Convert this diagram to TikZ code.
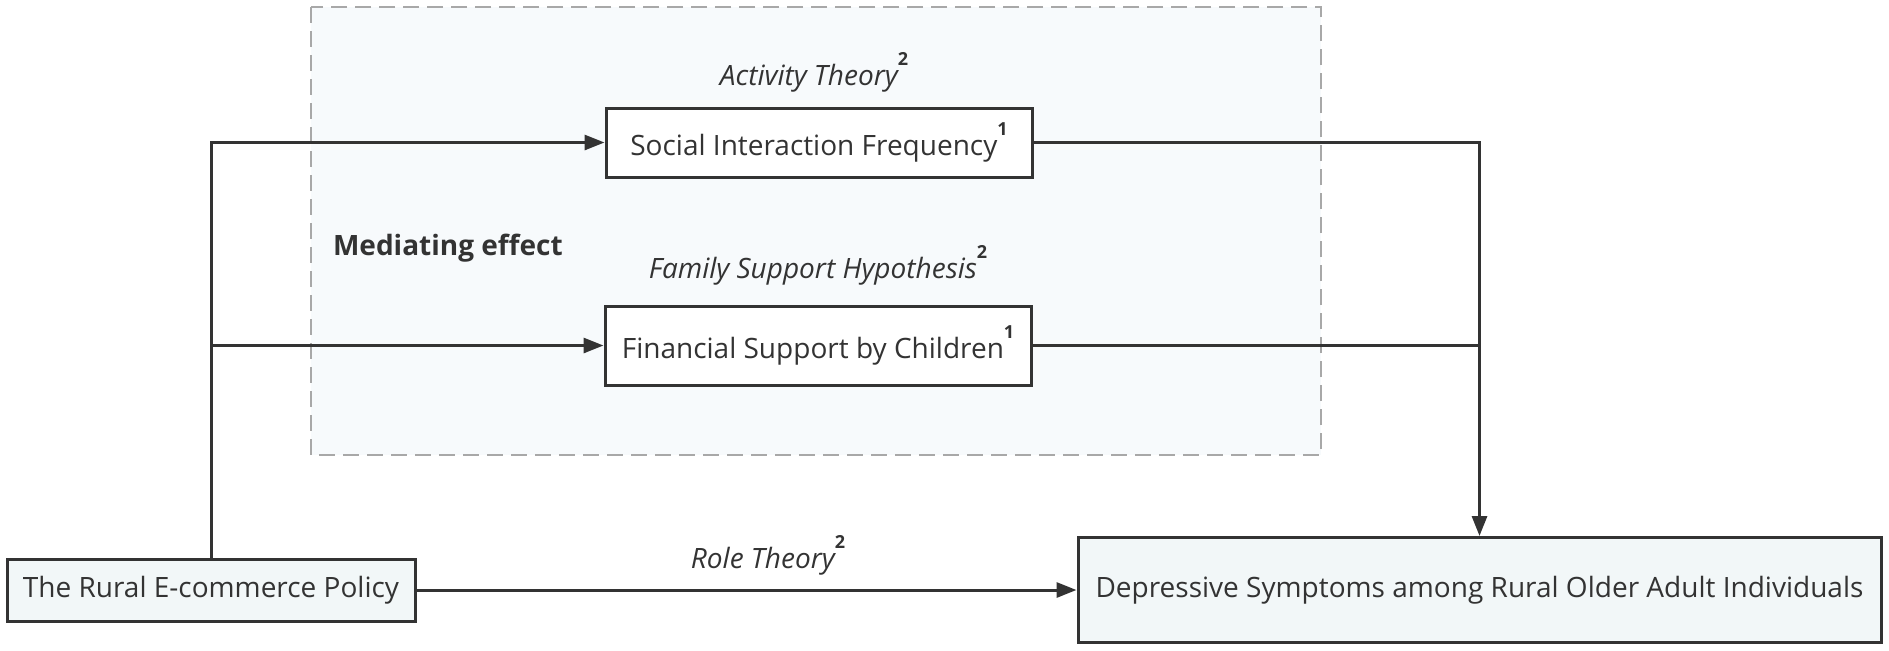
\documentclass[tikz,border=0pt]{standalone}
\usepackage{fontspec}
\setmainfont{Open Sans}
\usetikzlibrary{arrows.meta}

\definecolor{linegrey}{HTML}{333333}
\definecolor{dashgrey}{HTML}{A8A8A8}
\definecolor{regionfill}{HTML}{F7FAFC}
\definecolor{boxfill}{HTML}{F2F7F8}

\tikzset{
    varbox/.style={draw=linegrey, line width=1.5pt, fill=white, inner sep=0pt,
        font=\fontsize{14}{16}\selectfont, text=linegrey},
    keybox/.style={varbox, fill=boxfill},
    theory/.style={font=\fontsize{14}{16}\selectfont\itshape, text=linegrey},
    conn/.style={draw=linegrey, line width=1.5pt},
    arr/.style={conn, -{Triangle[length=10pt, width=7.5pt]}},
}
\newcommand{\supnum}[1]{\raisebox{1.35ex}{\fontsize{9}{9}\selectfont\bfseries\upshape #1}}

\begin{document}
\begin{tikzpicture}[x=0.5pt, y=-0.5pt]
    \useasboundingbox (0,0) rectangle (1889,650);

    % mediating region
    \draw[dashgrey, fill=regionfill, line width=1pt, dash pattern=on 8pt off 4pt] (311,7) rectangle (1321,455);

    \node[keybox, minimum width=204pt, minimum height=31pt] (policy) at (211,590) {The Rural E-commerce Policy};
    \node[varbox, minimum width=213pt, minimum height=34.5pt] (social) at (819,142.5) {Social Interaction Frequency\supnum{1}};
    \node[varbox, minimum width=213pt, minimum height=39.5pt] (financial) at (818,345.5) {Financial Support by Children\supnum{1}};
    \node[keybox, minimum width=401.5pt, minimum height=52.5pt] (depressive) at (1479.5,590) {Depressive Symptoms among Rural Older Adult Individuals};

    \node[theory] (activity) at (814,72) {Activity Theory\supnum{2}};
    \node[theory] (family) at (818,265) {Family Support Hypothesis\supnum{2}};
    \node[theory] (role) at (768,555) {Role Theory\supnum{2}};
    \node[font=\fontsize{14}{16}\selectfont\bfseries, text=linegrey, anchor=west] (mediating) at (326,248) {Mediating effect};

    \draw[arr] (policy.north) |- (social.west);
    \draw[arr] (policy.north) |- (financial.west);
    \draw[arr] (social.east) -| (depressive.north);
    \draw[conn] (financial.east) -- (financial.east -| depressive.north);
    \draw[arr] (policy.east) -- (depressive.west);
\end{tikzpicture}
\end{document}
